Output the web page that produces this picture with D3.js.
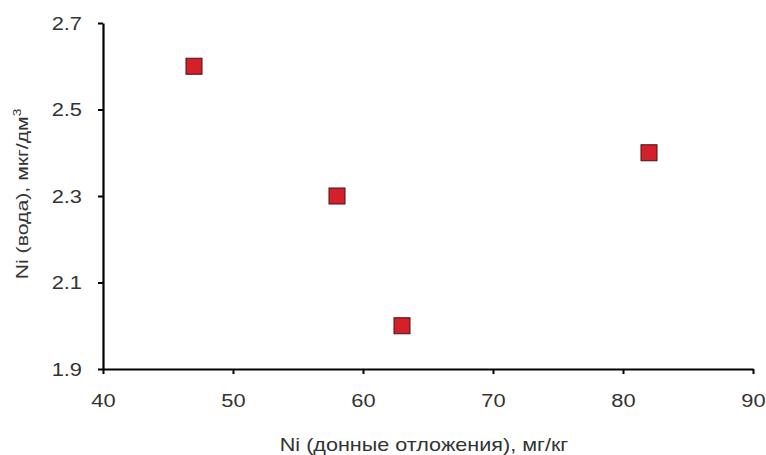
<!DOCTYPE html>
<html>
<head>
<meta charset="utf-8">
<script src="https://cdn.jsdelivr.net/npm/d3@7"></script>
<style>
  body { margin: 0; background: #fff; }
  svg text { font-family: "Liberation Sans", Arial, sans-serif; fill: #333; }
</style>
</head>
<body>
<div id="chart"></div>
<script>
  const niSediment = [47, 58, 63, 82];
  const niWater = [2.6, 2.3, 2.0, 2.4];
  const xTicks = [40, 50, 60, 70, 80, 90];
  const yTicks = [1.9, 2.1, 2.3, 2.5, 2.7];

  const width = 766, height = 455;
  const margin = { top: 23, right: 13, bottom: 86, left: 103 };
  const stretch = 1.15; // text in the original is a bit wider than Arial

  const svg = d3.select("#chart")
                .append("svg")
                .attr("width", width)
                .attr("height", height);

  const x = d3.scaleLinear()
              .domain([40, 90])
              .range([margin.left, width - margin.right]);

  const y = d3.scaleLinear()
              .domain([1.9, 2.7])
              .range([height - margin.bottom, margin.top]);

  // axes
  const xAxis = svg.append("g")
     .attr("transform", `translate(0,${height - margin.bottom})`)
     .call(d3.axisBottom(x).tickValues(xTicks).tickSize(5).tickPadding(20).tickSizeOuter(0));

  const yAxis = svg.append("g")
     .attr("transform", `translate(${margin.left},0)`)
     .call(d3.axisLeft(y).tickValues(yTicks).tickFormat(d3.format(".1f")).tickSize(5).tickPadding(16).tickSizeOuter(0));

  [xAxis, yAxis].forEach(ax => {
    ax.select(".domain").attr("stroke", "#000").attr("stroke-width", 2.2);
    ax.selectAll(".tick line").attr("stroke", "#000").attr("stroke-width", 2);
    ax.selectAll(".tick text")
      .attr("font-size", 19)
      .attr("fill", "#333")
      .attr("transform", `scale(${stretch},1)`);
  });
  yAxis.selectAll(".tick text").attr("x", -21 / stretch);

  // points
  const s = 16;
  svg.selectAll(".pt")
     .data(niSediment)
     .enter()
     .append("rect")
     .attr("x", d => x(d) - s / 2)
     .attr("y", (_, i) => y(niWater[i]) - s / 2)
     .attr("width", s)
     .attr("height", s)
     .attr("fill", "#d4202a")
     .attr("stroke", "#4a1010")
     .attr("stroke-width", 1);

  // axis titles
  svg.append("text")
     .attr("transform", "translate(424,451) scale(1.2,1)")
     .attr("text-anchor", "middle")
     .attr("font-size", 18)
     .text("Ni (донные отложения), мг/кг");

  const yt = svg.append("text")
     .attr("transform", "translate(28,194) rotate(-90) scale(1.25,1)")
     .attr("text-anchor", "middle")
     .attr("font-size", 17);
  yt.append("tspan").text("Ni (вода), мкг/дм");
  yt.append("tspan").attr("font-size", 11).attr("dy", -7).text("3");
</script>
</body>
</html>
